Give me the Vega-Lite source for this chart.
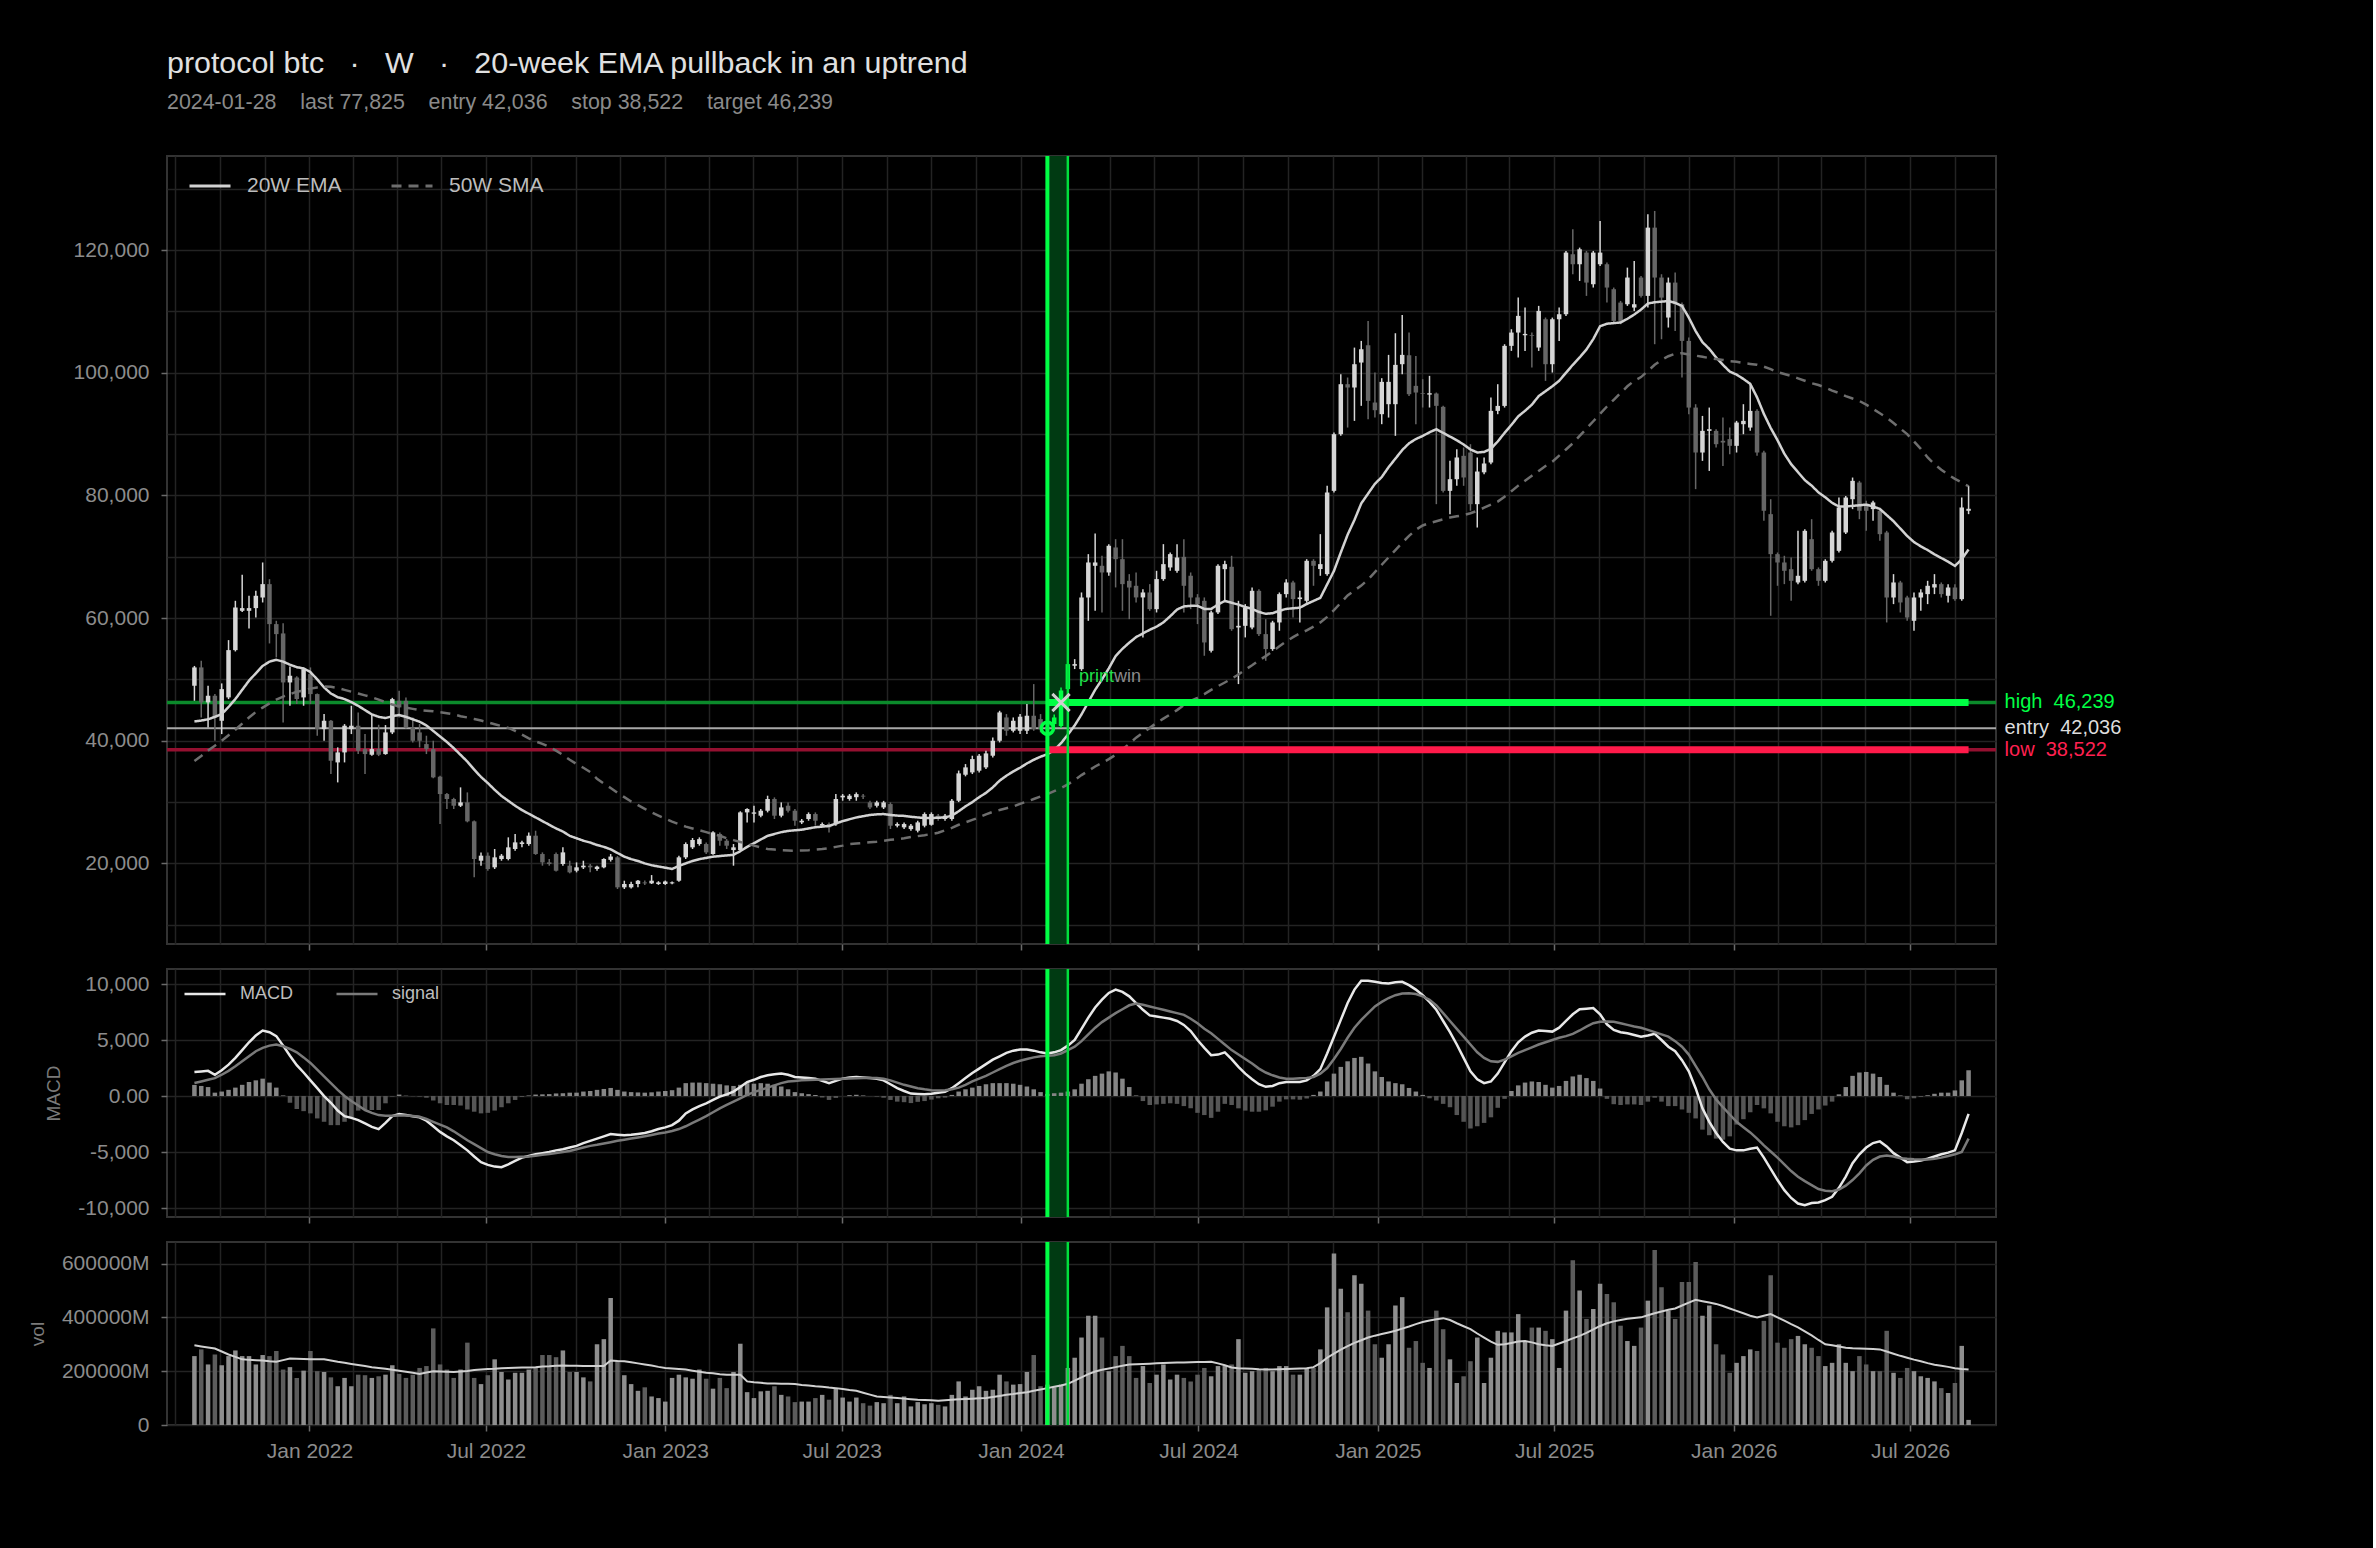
{
"$schema":"https://vega.github.io/schema/vega-lite/v6.json",
"background":"#000000",
"padding":{"left":27,"top":49,"right":250,"bottom":91},
"title":{"text":"protocol btc\u00a0\u00a0\u00a0·\u00a0\u00a0\u00a0W\u00a0\u00a0\u00a0·\u00a0\u00a0\u00a020-week EMA pullback in an uptrend","subtitle":"2024-01-28\u00a0\u00a0\u00a0\u00a0last 77,825\u00a0\u00a0\u00a0\u00a0entry 42,036\u00a0\u00a0\u00a0\u00a0stop 38,522\u00a0\u00a0\u00a0\u00a0target 46,239","anchor":"start","frame":"group","offset":40,"font":"Liberation Sans","fontSize":30.4,"fontWeight":"normal","color":"#e0e0e0","subtitleFont":"Liberation Sans","subtitleFontSize":21.4,"subtitleColor":"#8a8a8a","subtitlePadding":12},
"config":{
"font":"Liberation Sans",
"view":{"stroke":"#333333","strokeWidth":2,"fill":"#000000"},
"axis":{"domain":false,"grid":true,"gridColor":"#232323","gridWidth":1.5,"tickColor":"#6a6a6a","tickSize":6,"tickWidth":1.5,"labelColor":"#8c8c8c","labelFont":"Liberation Sans","labelFontSize":21,"labelPadding":12,"labelOverlap":false,"labelFlush":false,"titleColor":"#7a7a7a","titleFont":"Liberation Sans","titleFontSize":19,"titleFontWeight":"normal","titlePadding":14},
"legend":{"labelFont":"Liberation Sans"}
},
"resolve":{"scale":{"color":"independent","strokeDash":"independent"},"legend":{"color":"independent","strokeDash":"independent"}},
"datasets":{
"ev":[{"start":"2024-01-28","end":"2024-02-18"}],
"lv":[{"name":"high","price":46239,"start":"2024-01-28","end":"2026-08-30","label":"high\u00a0\u00a046,239"},{"name":"entry","price":42036,"start":"2024-01-28","end":"2026-08-30","label":"entry\u00a0\u00a042,036"},{"name":"low","price":38522,"start":"2024-01-28","end":"2026-08-30","label":"low\u00a0\u00a038,522"}],
"mk":[{"kind":"entry","date":"2024-01-28","price":42036,"note":"","outcome":""},{"kind":"exit","date":"2024-02-11","price":46239,"note":"print","outcome":"win"}],
"w":[
{"date":"2021-09-05","o":48970,"h":52200,"l":46520,"c":51960,"v":256000,"ema":43150,"sma":36700,"macd":2150,"sig":1160,"hist":990,"vma":296000},
{"date":"2021-09-12","o":51960,"h":53040,"l":43800,"c":46250,"v":281000,"ema":43300,"sma":37500,"macd":2200,"sig":1300,"hist":900,"vma":292000},
{"date":"2021-09-19","o":46250,"h":48970,"l":42180,"c":47340,"v":225000,"ema":43500,"sma":38400,"macd":2250,"sig":1450,"hist":800,"vma":288000},
{"date":"2021-09-26","o":47340,"h":47610,"l":40000,"c":43800,"v":262000,"ema":43900,"sma":39200,"macd":1900,"sig":1600,"hist":300,"vma":284000},
{"date":"2021-10-03","o":43260,"h":49350,"l":41090,"c":48420,"v":222000,"ema":44350,"sma":40000,"macd":2300,"sig":1900,"hist":400,"vma":273000},
{"date":"2021-10-10","o":47070,"h":56410,"l":46790,"c":54780,"v":256000,"ema":45500,"sma":40900,"macd":2800,"sig":2250,"hist":550,"vma":262000},
{"date":"2021-10-17","o":54780,"h":62820,"l":54560,"c":61730,"v":277000,"ema":46800,"sma":41800,"macd":3400,"sig":2650,"hist":750,"vma":253000},
{"date":"2021-10-24","o":61190,"h":67060,"l":61000,"c":61630,"v":256000,"ema":48300,"sma":42800,"macd":4100,"sig":3100,"hist":1000,"vma":244000},
{"date":"2021-10-31","o":61190,"h":63640,"l":58310,"c":61630,"v":256000,"ema":49800,"sma":43800,"macd":4800,"sig":3550,"hist":1250,"vma":242000},
{"date":"2021-11-07","o":61630,"h":64450,"l":60100,"c":63640,"v":225000,"ema":51000,"sma":44700,"macd":5400,"sig":4000,"hist":1400,"vma":241000},
{"date":"2021-11-14","o":63360,"h":69070,"l":62550,"c":65540,"v":260000,"ema":52200,"sma":45400,"macd":5850,"sig":4300,"hist":1550,"vma":240000},
{"date":"2021-11-21","o":65540,"h":66350,"l":55870,"c":59020,"v":256000,"ema":52900,"sma":46100,"macd":5700,"sig":4500,"hist":1200,"vma":237000},
{"date":"2021-11-28","o":59020,"h":59560,"l":53590,"c":57390,"v":275000,"ema":53200,"sma":46700,"macd":5350,"sig":4600,"hist":750,"vma":235000},
{"date":"2021-12-05","o":57500,"h":59180,"l":42990,"c":49510,"v":206000,"ema":52900,"sma":47200,"macd":4500,"sig":4450,"hist":50,"vma":241000},
{"date":"2021-12-12","o":49510,"h":52120,"l":45710,"c":50600,"v":215000,"ema":52400,"sma":47600,"macd":3600,"sig":4200,"hist":-600,"vma":247000},
{"date":"2021-12-19","o":50330,"h":50500,"l":45980,"c":46790,"v":175000,"ema":52000,"sma":48000,"macd":2750,"sig":3900,"hist":-1150,"vma":246000},
{"date":"2021-12-26","o":47070,"h":51790,"l":45710,"c":51680,"v":202000,"ema":51800,"sma":48200,"macd":2100,"sig":3450,"hist":-1350,"vma":245000},
{"date":"2022-01-02","o":50870,"h":51960,"l":45980,"c":47610,"v":275000,"ema":51200,"sma":48500,"macd":1400,"sig":2950,"hist":-1550,"vma":244000},
{"date":"2022-01-09","o":47610,"h":47720,"l":40820,"c":41900,"v":200000,"ema":50000,"sma":48700,"macd":700,"sig":2350,"hist":-2000,"vma":244000},
{"date":"2022-01-16","o":41900,"h":44350,"l":40000,"c":43260,"v":197000,"ema":48700,"sma":48850,"macd":0,"sig":1750,"hist":-2300,"vma":244000},
{"date":"2022-01-23","o":43260,"h":43400,"l":34570,"c":36740,"v":177000,"ema":47700,"sma":48800,"macd":-600,"sig":1150,"hist":-2600,"vma":240000},
{"date":"2022-01-30","o":36470,"h":38920,"l":33210,"c":38100,"v":144000,"ema":47100,"sma":48600,"macd":-1300,"sig":550,"hist":-2600,"vma":235000},
{"date":"2022-02-06","o":38100,"h":42720,"l":36470,"c":42450,"v":175000,"ema":46800,"sma":48300,"macd":-1800,"sig":0,"hist":-2300,"vma":231000},
{"date":"2022-02-13","o":41900,"h":45710,"l":41090,"c":42450,"v":144000,"ema":46300,"sma":48000,"macd":-1950,"sig":-450,"hist":-1900,"vma":227000},
{"date":"2022-02-20","o":42450,"h":44620,"l":37830,"c":38370,"v":187000,"ema":45700,"sma":47700,"macd":-2150,"sig":-850,"hist":-1300,"vma":223000},
{"date":"2022-02-27","o":38640,"h":41090,"l":34570,"c":37830,"v":185000,"ema":45000,"sma":47400,"macd":-2450,"sig":-1250,"hist":-1200,"vma":219000},
{"date":"2022-03-06","o":37720,"h":44350,"l":37560,"c":38640,"v":175000,"ema":44300,"sma":47100,"macd":-2750,"sig":-1500,"hist":-1250,"vma":215000},
{"date":"2022-03-13","o":38640,"h":42610,"l":37500,"c":37720,"v":181000,"ema":43900,"sma":46700,"macd":-2950,"sig":-1700,"hist":-1250,"vma":212000},
{"date":"2022-03-20","o":37830,"h":42560,"l":37720,"c":41360,"v":187000,"ema":43700,"sma":46300,"macd":-2400,"sig":-1750,"hist":-650,"vma":209000},
{"date":"2022-03-27","o":41360,"h":47000,"l":41090,"c":46790,"v":222000,"ema":44000,"sma":45900,"macd":-1800,"sig":-1750,"hist":-50,"vma":205000},
{"date":"2022-04-03","o":46520,"h":48150,"l":43800,"c":45440,"v":190000,"ema":44200,"sma":45600,"macd":-1600,"sig":-1730,"hist":130,"vma":202000},
{"date":"2022-04-10","o":46520,"h":47070,"l":42000,"c":42180,"v":175000,"ema":43900,"sma":45400,"macd":-1700,"sig":-1730,"hist":30,"vma":198000},
{"date":"2022-04-17","o":42180,"h":43800,"l":39730,"c":40000,"v":187000,"ema":43500,"sma":45200,"macd":-1800,"sig":-1780,"hist":-20,"vma":194000},
{"date":"2022-04-24","o":41360,"h":42720,"l":38920,"c":40000,"v":212000,"ema":43100,"sma":45000,"macd":-1900,"sig":-1850,"hist":-50,"vma":190000},
{"date":"2022-05-01","o":39460,"h":40820,"l":37830,"c":38640,"v":219000,"ema":42500,"sma":44900,"macd":-2200,"sig":-2050,"hist":-150,"vma":195000},
{"date":"2022-05-08","o":38640,"h":40000,"l":33900,"c":34030,"v":359000,"ema":41600,"sma":44800,"macd":-2700,"sig":-2300,"hist":-400,"vma":200000},
{"date":"2022-05-15","o":34140,"h":34300,"l":26420,"c":31310,"v":225000,"ema":40700,"sma":44650,"macd":-3200,"sig":-2550,"hist":-650,"vma":199000},
{"date":"2022-05-22","o":31310,"h":31500,"l":28870,"c":30500,"v":206000,"ema":39800,"sma":44500,"macd":-3600,"sig":-2800,"hist":-800,"vma":198000},
{"date":"2022-05-29","o":30500,"h":30700,"l":28870,"c":29410,"v":175000,"ema":38800,"sma":44300,"macd":-3950,"sig":-3150,"hist":-800,"vma":197000},
{"date":"2022-06-05","o":29410,"h":32400,"l":29200,"c":29950,"v":206000,"ema":37700,"sma":44000,"macd":-4400,"sig":-3550,"hist":-850,"vma":199000},
{"date":"2022-06-12","o":29950,"h":31580,"l":26700,"c":26860,"v":306000,"ema":36600,"sma":43800,"macd":-4850,"sig":-3950,"hist":-1200,"vma":201000},
{"date":"2022-06-19","o":26860,"h":27000,"l":17730,"c":20720,"v":175000,"ema":35300,"sma":43550,"macd":-5400,"sig":-4300,"hist":-1400,"vma":204000},
{"date":"2022-06-26","o":20440,"h":21800,"l":19630,"c":21260,"v":152000,"ema":34100,"sma":43300,"macd":-5900,"sig":-4650,"hist":-1550,"vma":206000},
{"date":"2022-07-03","o":21260,"h":21800,"l":18810,"c":19090,"v":185000,"ema":33100,"sma":43000,"macd":-6150,"sig":-5000,"hist":-1500,"vma":208000},
{"date":"2022-07-10","o":19360,"h":22350,"l":19090,"c":20990,"v":244000,"ema":32000,"sma":42700,"macd":-6300,"sig":-5200,"hist":-1300,"vma":209000},
{"date":"2022-07-17","o":20720,"h":21530,"l":20440,"c":21260,"v":197000,"ema":31000,"sma":42400,"macd":-6350,"sig":-5350,"hist":-1000,"vma":211000},
{"date":"2022-07-24","o":20720,"h":24250,"l":20500,"c":22620,"v":169000,"ema":30200,"sma":42100,"macd":-6100,"sig":-5450,"hist":-650,"vma":212000},
{"date":"2022-07-31","o":22350,"h":24790,"l":22070,"c":23430,"v":194000,"ema":29400,"sma":41600,"macd":-5800,"sig":-5450,"hist":-350,"vma":213000},
{"date":"2022-08-07","o":23160,"h":23700,"l":22620,"c":23430,"v":194000,"ema":28700,"sma":41000,"macd":-5500,"sig":-5420,"hist":-80,"vma":214000},
{"date":"2022-08-14","o":23160,"h":25060,"l":22890,"c":24520,"v":206000,"ema":28100,"sma":40400,"macd":-5350,"sig":-5400,"hist":50,"vma":214000},
{"date":"2022-08-21","o":24520,"h":25330,"l":21400,"c":21530,"v":212000,"ema":27500,"sma":39900,"macd":-5200,"sig":-5330,"hist":130,"vma":215000},
{"date":"2022-08-28","o":21530,"h":21800,"l":19630,"c":20170,"v":260000,"ema":26900,"sma":39500,"macd":-5100,"sig":-5250,"hist":150,"vma":217000},
{"date":"2022-09-04","o":20170,"h":20720,"l":19630,"c":19900,"v":260000,"ema":26300,"sma":39000,"macd":-5000,"sig":-5170,"hist":170,"vma":218000},
{"date":"2022-09-11","o":21530,"h":21800,"l":18700,"c":18810,"v":252000,"ema":25700,"sma":38400,"macd":-4850,"sig":-5080,"hist":230,"vma":220000},
{"date":"2022-09-18","o":19900,"h":22620,"l":19630,"c":21800,"v":277000,"ema":25200,"sma":37700,"macd":-4750,"sig":-5000,"hist":250,"vma":221000},
{"date":"2022-09-25","o":19630,"h":20440,"l":18380,"c":18540,"v":197000,"ema":24500,"sma":36900,"macd":-4600,"sig":-4900,"hist":300,"vma":220000},
{"date":"2022-10-02","o":18810,"h":20170,"l":18540,"c":19360,"v":197000,"ema":24100,"sma":36200,"macd":-4450,"sig":-4750,"hist":300,"vma":220000},
{"date":"2022-10-09","o":19360,"h":20440,"l":19090,"c":19630,"v":177000,"ema":23700,"sma":35600,"macd":-4200,"sig":-4600,"hist":400,"vma":219000},
{"date":"2022-10-16","o":19630,"h":19900,"l":18540,"c":19360,"v":162000,"ema":23400,"sma":34900,"macd":-4000,"sig":-4450,"hist":450,"vma":219000},
{"date":"2022-10-23","o":19090,"h":19630,"l":18810,"c":19470,"v":300000,"ema":23000,"sma":33800,"macd":-3800,"sig":-4350,"hist":550,"vma":219000},
{"date":"2022-10-30","o":19360,"h":20850,"l":19200,"c":20720,"v":319000,"ema":22700,"sma":33000,"macd":-3600,"sig":-4230,"hist":630,"vma":219000},
{"date":"2022-11-06","o":20580,"h":21530,"l":20300,"c":21120,"v":472000,"ema":22300,"sma":32300,"macd":-3400,"sig":-4120,"hist":720,"vma":240000},
{"date":"2022-11-13","o":20990,"h":21200,"l":15830,"c":16100,"v":240000,"ema":21700,"sma":31500,"macd":-3450,"sig":-4000,"hist":550,"vma":238000},
{"date":"2022-11-20","o":16100,"h":17180,"l":15830,"c":16640,"v":185000,"ema":21100,"sma":30800,"macd":-3500,"sig":-3900,"hist":400,"vma":237000},
{"date":"2022-11-27","o":16100,"h":17000,"l":15900,"c":16640,"v":152000,"ema":20700,"sma":30100,"macd":-3450,"sig":-3800,"hist":350,"vma":233000},
{"date":"2022-12-04","o":16640,"h":17290,"l":16100,"c":17180,"v":127000,"ema":20400,"sma":29500,"macd":-3380,"sig":-3700,"hist":320,"vma":229000},
{"date":"2022-12-11","o":16900,"h":17200,"l":16500,"c":16750,"v":140000,"ema":20000,"sma":28900,"macd":-3300,"sig":-3600,"hist":300,"vma":225000},
{"date":"2022-12-18","o":16750,"h":18100,"l":16640,"c":17180,"v":106000,"ema":19700,"sma":28300,"macd":-3150,"sig":-3480,"hist":330,"vma":221000},
{"date":"2022-12-25","o":16640,"h":17100,"l":16500,"c":16910,"v":100000,"ema":19500,"sma":27800,"macd":-2950,"sig":-3350,"hist":400,"vma":216000},
{"date":"2023-01-01","o":16640,"h":17200,"l":16500,"c":17050,"v":87000,"ema":19300,"sma":27300,"macd":-2800,"sig":-3250,"hist":450,"vma":212000},
{"date":"2023-01-08","o":16750,"h":17050,"l":16600,"c":16910,"v":175000,"ema":19100,"sma":26800,"macd":-2600,"sig":-3120,"hist":520,"vma":210000},
{"date":"2023-01-15","o":17180,"h":21260,"l":17000,"c":20990,"v":187000,"ema":19600,"sma":26400,"macd":-2200,"sig":-2950,"hist":750,"vma":208000},
{"date":"2023-01-22","o":20990,"h":23430,"l":20720,"c":23160,"v":177000,"ema":20000,"sma":26000,"macd":-1550,"sig":-2700,"hist":1150,"vma":206000},
{"date":"2023-01-29","o":22620,"h":24140,"l":22350,"c":23820,"v":172000,"ema":20400,"sma":25700,"macd":-1200,"sig":-2400,"hist":1200,"vma":202000},
{"date":"2023-02-05","o":23160,"h":24250,"l":22890,"c":23960,"v":206000,"ema":20700,"sma":25400,"macd":-900,"sig":-2100,"hist":1200,"vma":198000},
{"date":"2023-02-12","o":23160,"h":23430,"l":21530,"c":21800,"v":172000,"ema":20900,"sma":25100,"macd":-650,"sig":-1800,"hist":1150,"vma":194000},
{"date":"2023-02-19","o":21530,"h":25230,"l":21420,"c":25060,"v":135000,"ema":21100,"sma":24800,"macd":-350,"sig":-1450,"hist":1100,"vma":192000},
{"date":"2023-02-26","o":24790,"h":25060,"l":22890,"c":23700,"v":175000,"ema":21200,"sma":24500,"macd":-50,"sig":-1100,"hist":1050,"vma":189000},
{"date":"2023-03-05","o":23700,"h":23970,"l":22350,"c":22890,"v":137000,"ema":21300,"sma":24100,"macd":150,"sig":-800,"hist":950,"vma":187000},
{"date":"2023-03-12","o":22180,"h":23160,"l":19630,"c":22620,"v":197000,"ema":21400,"sma":23800,"macd":400,"sig":-500,"hist":900,"vma":187000},
{"date":"2023-03-19","o":22180,"h":28500,"l":22070,"c":28320,"v":302000,"ema":22000,"sma":23500,"macd":800,"sig":-200,"hist":1000,"vma":187000},
{"date":"2023-03-26","o":28320,"h":29000,"l":26690,"c":28870,"v":122000,"ema":22700,"sma":23200,"macd":1250,"sig":100,"hist":1150,"vma":162000},
{"date":"2023-04-02","o":28100,"h":29410,"l":26690,"c":28320,"v":100000,"ema":23300,"sma":22900,"macd":1450,"sig":350,"hist":1100,"vma":159000},
{"date":"2023-04-09","o":27780,"h":28870,"l":27510,"c":28590,"v":125000,"ema":23900,"sma":22600,"macd":1700,"sig":550,"hist":1150,"vma":157000},
{"date":"2023-04-16","o":28590,"h":31040,"l":28320,"c":30500,"v":127000,"ema":24500,"sma":22350,"macd":1850,"sig":750,"hist":1100,"vma":154000},
{"date":"2023-04-23","o":30500,"h":30770,"l":27240,"c":27780,"v":144000,"ema":24800,"sma":22250,"macd":1950,"sig":950,"hist":1000,"vma":154000},
{"date":"2023-04-30","o":27780,"h":29950,"l":27510,"c":29130,"v":112000,"ema":25100,"sma":22150,"macd":2000,"sig":1150,"hist":850,"vma":153000},
{"date":"2023-05-07","o":29410,"h":29950,"l":28320,"c":28590,"v":106000,"ema":25300,"sma":22100,"macd":1900,"sig":1300,"hist":600,"vma":153000},
{"date":"2023-05-14","o":28590,"h":28870,"l":26150,"c":26960,"v":85000,"ema":25400,"sma":22070,"macd":1700,"sig":1350,"hist":350,"vma":152000},
{"date":"2023-05-21","o":26690,"h":27240,"l":26420,"c":26960,"v":87000,"ema":25500,"sma":22100,"macd":1650,"sig":1400,"hist":250,"vma":149000},
{"date":"2023-05-28","o":27240,"h":28320,"l":26960,"c":28050,"v":87000,"ema":25700,"sma":22150,"macd":1600,"sig":1430,"hist":170,"vma":147000},
{"date":"2023-06-04","o":28050,"h":28320,"l":26150,"c":26960,"v":100000,"ema":25900,"sma":22250,"macd":1550,"sig":1460,"hist":90,"vma":144000},
{"date":"2023-06-11","o":26150,"h":26690,"l":25880,"c":26420,"v":112000,"ema":26000,"sma":22350,"macd":1350,"sig":1480,"hist":-130,"vma":142000},
{"date":"2023-06-18","o":26420,"h":26690,"l":25060,"c":25880,"v":94000,"ema":26100,"sma":22500,"macd":1150,"sig":1500,"hist":-350,"vma":139000},
{"date":"2023-06-25","o":26420,"h":31310,"l":26150,"c":30500,"v":137000,"ema":26500,"sma":22700,"macd":1350,"sig":1520,"hist":-170,"vma":137000},
{"date":"2023-07-02","o":30770,"h":31310,"l":30230,"c":31040,"v":102000,"ema":26900,"sma":22900,"macd":1550,"sig":1550,"hist":0,"vma":134000},
{"date":"2023-07-09","o":30500,"h":31310,"l":30230,"c":31040,"v":87000,"ema":27200,"sma":23150,"macd":1650,"sig":1570,"hist":80,"vma":130000},
{"date":"2023-07-16","o":30800,"h":31580,"l":30220,"c":31300,"v":102000,"ema":27500,"sma":23250,"macd":1700,"sig":1590,"hist":110,"vma":127000},
{"date":"2023-07-23","o":31040,"h":31300,"l":30500,"c":30900,"v":81000,"ema":27700,"sma":23350,"macd":1650,"sig":1600,"hist":50,"vma":120000},
{"date":"2023-07-30","o":29950,"h":30220,"l":28870,"c":29130,"v":72000,"ema":27900,"sma":23450,"macd":1600,"sig":1610,"hist":-10,"vma":113000},
{"date":"2023-08-06","o":29400,"h":30220,"l":29130,"c":29950,"v":85000,"ema":28000,"sma":23550,"macd":1550,"sig":1600,"hist":-50,"vma":106000},
{"date":"2023-08-13","o":29130,"h":30200,"l":28870,"c":29950,"v":81000,"ema":28050,"sma":23700,"macd":1400,"sig":1550,"hist":-150,"vma":104000},
{"date":"2023-08-20","o":29680,"h":29950,"l":25610,"c":26150,"v":112000,"ema":27900,"sma":23850,"macd":1050,"sig":1400,"hist":-350,"vma":102000},
{"date":"2023-08-27","o":26150,"h":26690,"l":25880,"c":26420,"v":81000,"ema":27800,"sma":23950,"macd":700,"sig":1200,"hist":-500,"vma":100000},
{"date":"2023-09-03","o":25880,"h":26690,"l":25610,"c":26420,"v":106000,"ema":27750,"sma":24100,"macd":450,"sig":1000,"hist":-550,"vma":98000},
{"date":"2023-09-10","o":25600,"h":26420,"l":25340,"c":26150,"v":69000,"ema":27600,"sma":24300,"macd":220,"sig":850,"hist":-630,"vma":96000},
{"date":"2023-09-17","o":25340,"h":26960,"l":25060,"c":26690,"v":85000,"ema":27500,"sma":24450,"macd":180,"sig":700,"hist":-520,"vma":94000},
{"date":"2023-09-24","o":26150,"h":28320,"l":25880,"c":28050,"v":77000,"ema":27400,"sma":24600,"macd":150,"sig":600,"hist":-450,"vma":93000},
{"date":"2023-10-01","o":26300,"h":28320,"l":26150,"c":28050,"v":81000,"ema":27400,"sma":24800,"macd":200,"sig":520,"hist":-320,"vma":92000},
{"date":"2023-10-08","o":27780,"h":28050,"l":26960,"c":27240,"v":75000,"ema":27450,"sma":25000,"macd":300,"sig":500,"hist":-200,"vma":90000},
{"date":"2023-10-15","o":27240,"h":28050,"l":26960,"c":27780,"v":69000,"ema":27500,"sma":25400,"macd":380,"sig":520,"hist":-140,"vma":92000},
{"date":"2023-10-22","o":27240,"h":30500,"l":26960,"c":30220,"v":112000,"ema":27800,"sma":25800,"macd":700,"sig":600,"hist":100,"vma":94000},
{"date":"2023-10-29","o":30220,"h":35140,"l":30000,"c":34680,"v":162000,"ema":28500,"sma":26300,"macd":1150,"sig":750,"hist":400,"vma":96000},
{"date":"2023-11-05","o":34460,"h":36200,"l":34200,"c":35660,"v":106000,"ema":29300,"sma":26700,"macd":1600,"sig":1000,"hist":600,"vma":97000},
{"date":"2023-11-12","o":34840,"h":37560,"l":34570,"c":37010,"v":131000,"ema":30000,"sma":27100,"macd":2050,"sig":1300,"hist":750,"vma":98000},
{"date":"2023-11-19","o":35120,"h":37830,"l":34840,"c":37560,"v":144000,"ema":30800,"sma":27500,"macd":2450,"sig":1550,"hist":900,"vma":99000},
{"date":"2023-11-26","o":35660,"h":38370,"l":35390,"c":37940,"v":127000,"ema":31500,"sma":28000,"macd":2850,"sig":1800,"hist":1050,"vma":100000},
{"date":"2023-12-03","o":37560,"h":40550,"l":37280,"c":40000,"v":131000,"ema":32400,"sma":28400,"macd":3250,"sig":2100,"hist":1150,"vma":104000},
{"date":"2023-12-10","o":40000,"h":44890,"l":39730,"c":44620,"v":187000,"ema":33500,"sma":28700,"macd":3550,"sig":2400,"hist":1150,"vma":108000},
{"date":"2023-12-17","o":43800,"h":44350,"l":40820,"c":41630,"v":162000,"ema":34300,"sma":29000,"macd":3850,"sig":2700,"hist":1150,"vma":112000},
{"date":"2023-12-24","o":41630,"h":43800,"l":41360,"c":43260,"v":150000,"ema":35000,"sma":29300,"macd":4050,"sig":2950,"hist":1100,"vma":115000},
{"date":"2023-12-31","o":41630,"h":44350,"l":41090,"c":43920,"v":152000,"ema":35600,"sma":29700,"macd":4150,"sig":3150,"hist":1000,"vma":119000},
{"date":"2024-01-07","o":41630,"h":45980,"l":41090,"c":44080,"v":197000,"ema":36300,"sma":30100,"macd":4150,"sig":3300,"hist":850,"vma":122000},
{"date":"2024-01-14","o":44080,"h":49240,"l":41630,"c":41900,"v":260000,"ema":36900,"sma":30500,"macd":4050,"sig":3450,"hist":600,"vma":127000},
{"date":"2024-01-21","o":43530,"h":44350,"l":41360,"c":41900,"v":144000,"ema":37400,"sma":30900,"macd":3900,"sig":3550,"hist":350,"vma":132000},
{"date":"2024-01-28","o":41900,"h":43000,"l":38600,"c":42036,"v":150000,"ema":37800,"sma":31300,"macd":3790,"sig":3600,"hist":190,"vma":137000},
{"date":"2024-02-04","o":42720,"h":44300,"l":42200,"c":43800,"v":140000,"ema":38500,"sma":31800,"macd":3900,"sig":3650,"hist":250,"vma":142000},
{"date":"2024-02-11","o":42400,"h":48700,"l":42100,"c":48200,"v":150000,"ema":39600,"sma":32300,"macd":4100,"sig":3800,"hist":300,"vma":147000},
{"date":"2024-02-18","o":48420,"h":52770,"l":48150,"c":52500,"v":212000,"ema":41000,"sma":32900,"macd":4500,"sig":4100,"hist":400,"vma":153000},
{"date":"2024-02-25","o":52230,"h":53310,"l":51690,"c":52500,"v":250000,"ema":42500,"sma":33600,"macd":5000,"sig":4400,"hist":600,"vma":165000},
{"date":"2024-03-03","o":51680,"h":64180,"l":51400,"c":63360,"v":325000,"ema":44300,"sma":34400,"macd":6000,"sig":4900,"hist":1100,"vma":177000},
{"date":"2024-03-10","o":63360,"h":70430,"l":59560,"c":69070,"v":406000,"ema":46300,"sma":35100,"macd":7000,"sig":5500,"hist":1500,"vma":189000},
{"date":"2024-03-17","o":68530,"h":73800,"l":61190,"c":69070,"v":406000,"ema":48300,"sma":35800,"macd":7900,"sig":6100,"hist":1800,"vma":199000},
{"date":"2024-03-24","o":68530,"h":70160,"l":60920,"c":67440,"v":325000,"ema":50000,"sma":36400,"macd":8600,"sig":6600,"hist":2000,"vma":205000},
{"date":"2024-03-31","o":67440,"h":72060,"l":66900,"c":71790,"v":200000,"ema":51800,"sma":37000,"macd":9200,"sig":7000,"hist":2200,"vma":210000},
{"date":"2024-04-07","o":71520,"h":72870,"l":65000,"c":69610,"v":256000,"ema":53800,"sma":37700,"macd":9500,"sig":7400,"hist":2100,"vma":215000},
{"date":"2024-04-14","o":69610,"h":72870,"l":61190,"c":65540,"v":294000,"ema":55000,"sma":38600,"macd":9300,"sig":7750,"hist":1550,"vma":220000},
{"date":"2024-04-21","o":66080,"h":67170,"l":59830,"c":64990,"v":256000,"ema":56000,"sma":39500,"macd":8900,"sig":8100,"hist":800,"vma":225000},
{"date":"2024-04-28","o":65270,"h":67440,"l":62550,"c":63370,"v":175000,"ema":56900,"sma":40500,"macd":8300,"sig":8250,"hist":50,"vma":226000},
{"date":"2024-05-05","o":63370,"h":64720,"l":56850,"c":64180,"v":219000,"ema":57500,"sma":41300,"macd":7700,"sig":8150,"hist":-450,"vma":227000},
{"date":"2024-05-12","o":64180,"h":65540,"l":61190,"c":61460,"v":156000,"ema":58100,"sma":42100,"macd":7200,"sig":8000,"hist":-800,"vma":228000},
{"date":"2024-05-19","o":61460,"h":67710,"l":60920,"c":66360,"v":187000,"ema":58600,"sma":42900,"macd":7100,"sig":7850,"hist":-750,"vma":229000},
{"date":"2024-05-26","o":66360,"h":72060,"l":66080,"c":68800,"v":225000,"ema":59300,"sma":43600,"macd":7000,"sig":7700,"hist":-700,"vma":230000},
{"date":"2024-06-02","o":68260,"h":70700,"l":67710,"c":70430,"v":169000,"ema":60300,"sma":44300,"macd":6900,"sig":7550,"hist":-650,"vma":231000},
{"date":"2024-06-09","o":67710,"h":72060,"l":67400,"c":69880,"v":187000,"ema":61400,"sma":45000,"macd":6700,"sig":7400,"hist":-700,"vma":232000},
{"date":"2024-06-16","o":69990,"h":72870,"l":60920,"c":65270,"v":175000,"ema":61900,"sma":45800,"macd":6350,"sig":7250,"hist":-900,"vma":232000},
{"date":"2024-06-23","o":66900,"h":67440,"l":61460,"c":63370,"v":162000,"ema":62000,"sma":46500,"macd":5800,"sig":6900,"hist":-1100,"vma":233000},
{"date":"2024-06-30","o":63370,"h":63910,"l":59020,"c":62280,"v":187000,"ema":62000,"sma":47000,"macd":5000,"sig":6500,"hist":-1500,"vma":234000},
{"date":"2024-07-07","o":62820,"h":63370,"l":53860,"c":56030,"v":212000,"ema":61500,"sma":47600,"macd":4300,"sig":6000,"hist":-1700,"vma":234000},
{"date":"2024-07-14","o":54670,"h":61200,"l":54400,"c":60930,"v":181000,"ema":61500,"sma":48300,"macd":3650,"sig":5600,"hist":-1950,"vma":235000},
{"date":"2024-07-21","o":60930,"h":68800,"l":60660,"c":68530,"v":219000,"ema":62200,"sma":48900,"macd":3700,"sig":5100,"hist":-1400,"vma":229000},
{"date":"2024-07-28","o":67980,"h":69340,"l":62820,"c":68800,"v":219000,"ema":62800,"sma":49500,"macd":3900,"sig":4600,"hist":-700,"vma":222000},
{"date":"2024-08-04","o":68370,"h":70160,"l":57930,"c":58200,"v":225000,"ema":62500,"sma":50100,"macd":3300,"sig":4100,"hist":-800,"vma":214000},
{"date":"2024-08-11","o":58470,"h":62820,"l":49240,"c":58740,"v":319000,"ema":62200,"sma":50800,"macd":2600,"sig":3700,"hist":-1100,"vma":211000},
{"date":"2024-08-18","o":58740,"h":62280,"l":56850,"c":61730,"v":194000,"ema":61800,"sma":51600,"macd":2000,"sig":3300,"hist":-1300,"vma":210000},
{"date":"2024-08-25","o":58470,"h":64990,"l":58200,"c":64450,"v":200000,"ema":61500,"sma":52300,"macd":1500,"sig":2900,"hist":-1400,"vma":209000},
{"date":"2024-09-01","o":64450,"h":64720,"l":57100,"c":57390,"v":206000,"ema":61000,"sma":53100,"macd":1050,"sig":2450,"hist":-1400,"vma":207000},
{"date":"2024-09-08","o":57390,"h":59830,"l":53040,"c":54950,"v":212000,"ema":60700,"sma":53800,"macd":820,"sig":2100,"hist":-1280,"vma":206000},
{"date":"2024-09-15","o":54950,"h":59560,"l":54670,"c":59290,"v":200000,"ema":60800,"sma":54600,"macd":900,"sig":1850,"hist":-950,"vma":206000},
{"date":"2024-09-22","o":59290,"h":64180,"l":57930,"c":63910,"v":219000,"ema":61200,"sma":55400,"macd":1150,"sig":1650,"hist":-500,"vma":207000},
{"date":"2024-09-29","o":63910,"h":66350,"l":63370,"c":65810,"v":219000,"ema":61500,"sma":56200,"macd":1250,"sig":1550,"hist":-300,"vma":208000},
{"date":"2024-10-06","o":65810,"h":66080,"l":60100,"c":63100,"v":187000,"ema":61600,"sma":56900,"macd":1250,"sig":1550,"hist":-300,"vma":209000},
{"date":"2024-10-13","o":63100,"h":64450,"l":59300,"c":63370,"v":187000,"ema":61700,"sma":57500,"macd":1250,"sig":1580,"hist":-330,"vma":210000},
{"date":"2024-10-20","o":62820,"h":69610,"l":62500,"c":69340,"v":212000,"ema":62300,"sma":58000,"macd":1400,"sig":1620,"hist":-220,"vma":211000},
{"date":"2024-10-27","o":69340,"h":69610,"l":65270,"c":68530,"v":212000,"ema":62800,"sma":58600,"macd":1800,"sig":1700,"hist":100,"vma":215000},
{"date":"2024-11-03","o":68000,"h":73690,"l":66900,"c":68800,"v":281000,"ema":63300,"sma":59300,"macd":2400,"sig":2000,"hist":400,"vma":230000},
{"date":"2024-11-10","o":67170,"h":81570,"l":66900,"c":80480,"v":437000,"ema":65500,"sma":60200,"macd":3800,"sig":2500,"hist":1300,"vma":250000},
{"date":"2024-11-17","o":80750,"h":90260,"l":80480,"c":89990,"v":637000,"ema":67700,"sma":61300,"macd":5300,"sig":3300,"hist":2000,"vma":265000},
{"date":"2024-11-24","o":89990,"h":99770,"l":89720,"c":98140,"v":506000,"ema":70700,"sma":62500,"macd":6800,"sig":4200,"hist":2600,"vma":280000},
{"date":"2024-12-01","o":98140,"h":99230,"l":91070,"c":97600,"v":419000,"ema":73600,"sma":63700,"macd":8300,"sig":5200,"hist":3100,"vma":293000},
{"date":"2024-12-08","o":97600,"h":104110,"l":92160,"c":101400,"v":556000,"ema":76000,"sma":64500,"macd":9500,"sig":6100,"hist":3400,"vma":305000},
{"date":"2024-12-15","o":101670,"h":105200,"l":94610,"c":103840,"v":525000,"ema":78700,"sma":65300,"macd":10300,"sig":6800,"hist":3500,"vma":315000},
{"date":"2024-12-22","o":104490,"h":108460,"l":92430,"c":95420,"v":425000,"ema":80300,"sma":66300,"macd":10300,"sig":7400,"hist":2900,"vma":325000},
{"date":"2024-12-29","o":95150,"h":100040,"l":92700,"c":93900,"v":300000,"ema":81900,"sma":67500,"macd":10200,"sig":8000,"hist":2200,"vma":332000},
{"date":"2025-01-05","o":93250,"h":99120,"l":91620,"c":98520,"v":250000,"ema":83000,"sma":68700,"macd":10100,"sig":8400,"hist":1700,"vma":338000},
{"date":"2025-01-12","o":94880,"h":102920,"l":92700,"c":98520,"v":300000,"ema":84600,"sma":69900,"macd":10050,"sig":8750,"hist":1300,"vma":344000},
{"date":"2025-01-19","o":94880,"h":106450,"l":89720,"c":101290,"v":444000,"ema":86000,"sma":71100,"macd":10150,"sig":9000,"hist":1150,"vma":350000},
{"date":"2025-01-26","o":101400,"h":109440,"l":99770,"c":102920,"v":475000,"ema":87400,"sma":72300,"macd":10200,"sig":9150,"hist":1050,"vma":358000},
{"date":"2025-02-02","o":102860,"h":106560,"l":96200,"c":96510,"v":287000,"ema":88500,"sma":73400,"macd":9900,"sig":9180,"hist":720,"vma":366000},
{"date":"2025-02-09","o":97870,"h":102750,"l":91620,"c":96780,"v":312000,"ema":89200,"sma":74400,"macd":9500,"sig":9100,"hist":400,"vma":375000},
{"date":"2025-02-16","o":96670,"h":98960,"l":94340,"c":96560,"v":231000,"ema":89700,"sma":75100,"macd":9000,"sig":8900,"hist":100,"vma":383000},
{"date":"2025-02-23","o":96440,"h":99500,"l":94340,"c":96670,"v":212000,"ema":90300,"sma":75500,"macd":8400,"sig":8600,"hist":-200,"vma":388000},
{"date":"2025-03-02","o":96620,"h":96780,"l":78580,"c":94610,"v":425000,"ema":90800,"sma":75800,"macd":7700,"sig":8100,"hist":-400,"vma":393000},
{"date":"2025-03-09","o":94450,"h":94610,"l":80480,"c":80750,"v":356000,"ema":90200,"sma":76100,"macd":6700,"sig":7400,"hist":-700,"vma":397000},
{"date":"2025-03-16","o":80750,"h":85640,"l":76950,"c":82650,"v":244000,"ema":89600,"sma":76400,"macd":5700,"sig":6700,"hist":-1000,"vma":390000},
{"date":"2025-03-23","o":82650,"h":87550,"l":81570,"c":86190,"v":156000,"ema":89000,"sma":76600,"macd":4600,"sig":6000,"hist":-1700,"vma":378000},
{"date":"2025-03-30","o":86460,"h":87820,"l":81570,"c":82930,"v":181000,"ema":88300,"sma":76800,"macd":3400,"sig":5300,"hist":-2300,"vma":367000},
{"date":"2025-04-06","o":87000,"h":88360,"l":77500,"c":78580,"v":237000,"ema":87500,"sma":77100,"macd":2200,"sig":4600,"hist":-2900,"vma":356000},
{"date":"2025-04-13","o":78580,"h":86190,"l":74770,"c":83900,"v":325000,"ema":87000,"sma":77500,"macd":1500,"sig":3900,"hist":-2700,"vma":340000},
{"date":"2025-04-20","o":83770,"h":86190,"l":83470,"c":85210,"v":156000,"ema":87100,"sma":78000,"macd":1150,"sig":3400,"hist":-2400,"vma":325000},
{"date":"2025-04-27","o":85370,"h":95960,"l":85100,"c":93790,"v":250000,"ema":87600,"sma":78500,"macd":1300,"sig":3100,"hist":-1900,"vma":310000},
{"date":"2025-05-04","o":93790,"h":98140,"l":93250,"c":94600,"v":350000,"ema":88800,"sma":79000,"macd":2000,"sig":3050,"hist":-1050,"vma":298000},
{"date":"2025-05-11","o":94600,"h":104660,"l":94330,"c":104390,"v":344000,"ema":90200,"sma":79800,"macd":3000,"sig":3250,"hist":-250,"vma":300000},
{"date":"2025-05-18","o":104390,"h":107100,"l":103570,"c":106560,"v":344000,"ema":91500,"sma":80700,"macd":4000,"sig":3550,"hist":450,"vma":305000},
{"date":"2025-05-25","o":106560,"h":112260,"l":102480,"c":109280,"v":412000,"ema":92900,"sma":81600,"macd":4800,"sig":3850,"hist":950,"vma":310000},
{"date":"2025-06-01","o":106120,"h":110630,"l":103570,"c":106340,"v":312000,"ema":93800,"sma":82400,"macd":5300,"sig":4100,"hist":1200,"vma":312000},
{"date":"2025-06-08","o":106120,"h":106560,"l":100860,"c":106000,"v":362000,"ema":94800,"sma":83200,"macd":5650,"sig":4350,"hist":1300,"vma":307000},
{"date":"2025-06-15","o":104120,"h":110910,"l":103570,"c":110090,"v":362000,"ema":96200,"sma":84000,"macd":5850,"sig":4600,"hist":1250,"vma":300000},
{"date":"2025-06-22","o":108730,"h":109010,"l":98680,"c":101400,"v":350000,"ema":97000,"sma":84800,"macd":5800,"sig":4800,"hist":1000,"vma":296000},
{"date":"2025-06-29","o":101400,"h":109000,"l":100040,"c":108730,"v":319000,"ema":97800,"sma":85500,"macd":5750,"sig":5000,"hist":750,"vma":294000},
{"date":"2025-07-06","o":108730,"h":110640,"l":105200,"c":109550,"v":212000,"ema":98700,"sma":86500,"macd":6100,"sig":5200,"hist":900,"vma":303000},
{"date":"2025-07-13","o":109550,"h":119870,"l":109280,"c":119600,"v":425000,"ema":100000,"sma":87500,"macd":6700,"sig":5350,"hist":1350,"vma":312000},
{"date":"2025-07-20","o":119330,"h":123400,"l":116070,"c":117700,"v":612000,"ema":101300,"sma":88500,"macd":7300,"sig":5550,"hist":1750,"vma":322000},
{"date":"2025-07-27","o":117700,"h":120410,"l":114980,"c":120140,"v":500000,"ema":102500,"sma":89700,"macd":7750,"sig":5850,"hist":1900,"vma":331000},
{"date":"2025-08-03","o":119600,"h":119870,"l":112540,"c":114710,"v":394000,"ema":103800,"sma":90900,"macd":7800,"sig":6200,"hist":1600,"vma":342000},
{"date":"2025-08-10","o":114440,"h":119870,"l":113900,"c":119600,"v":431000,"ema":105500,"sma":92100,"macd":7850,"sig":6500,"hist":1350,"vma":355000},
{"date":"2025-08-17","o":117700,"h":124760,"l":117400,"c":119600,"v":525000,"ema":107600,"sma":93300,"macd":7300,"sig":6630,"hist":670,"vma":368000},
{"date":"2025-08-24","o":117700,"h":117970,"l":111450,"c":113900,"v":487000,"ema":108000,"sma":94500,"macd":6400,"sig":6650,"hist":-250,"vma":378000},
{"date":"2025-08-31","o":113630,"h":113900,"l":108190,"c":108460,"v":456000,"ema":108100,"sma":95600,"macd":5900,"sig":6630,"hist":-730,"vma":385000},
{"date":"2025-09-07","o":111450,"h":111720,"l":107920,"c":108460,"v":369000,"ema":108200,"sma":96700,"macd":5700,"sig":6500,"hist":-800,"vma":390000},
{"date":"2025-09-14","o":111180,"h":117150,"l":110910,"c":115530,"v":312000,"ema":108800,"sma":97800,"macd":5600,"sig":6350,"hist":-750,"vma":395000},
{"date":"2025-09-21","o":110640,"h":118240,"l":110090,"c":111180,"v":294000,"ema":109500,"sma":98700,"macd":5450,"sig":6200,"hist":-750,"vma":398000},
{"date":"2025-09-28","o":115530,"h":115800,"l":112260,"c":112540,"v":362000,"ema":110300,"sma":99300,"macd":5300,"sig":6100,"hist":-800,"vma":400000},
{"date":"2025-10-05","o":112540,"h":125850,"l":110640,"c":123670,"v":462000,"ema":111300,"sma":100300,"macd":5400,"sig":5900,"hist":-500,"vma":408000},
{"date":"2025-10-12","o":123670,"h":126390,"l":104660,"c":115530,"v":650000,"ema":111500,"sma":101300,"macd":5550,"sig":5700,"hist":-150,"vma":415000},
{"date":"2025-10-19","o":115530,"h":116070,"l":105470,"c":112260,"v":512000,"ema":111600,"sma":102100,"macd":5000,"sig":5500,"hist":-500,"vma":422000},
{"date":"2025-10-26","o":109010,"h":115530,"l":107380,"c":114710,"v":425000,"ema":111700,"sma":102700,"macd":4400,"sig":5300,"hist":-900,"vma":428000},
{"date":"2025-11-02","o":114710,"h":116340,"l":106830,"c":111180,"v":394000,"ema":111400,"sma":103100,"macd":4000,"sig":4900,"hist":-900,"vma":433000},
{"date":"2025-11-09","o":111180,"h":111450,"l":99230,"c":105200,"v":531000,"ema":110900,"sma":103200,"macd":3200,"sig":4400,"hist":-1200,"vma":444000},
{"date":"2025-11-16","o":105200,"h":105740,"l":93250,"c":94330,"v":531000,"ema":109000,"sma":103000,"macd":2200,"sig":3700,"hist":-1500,"vma":455000},
{"date":"2025-11-23","o":94330,"h":94880,"l":81030,"c":87000,"v":606000,"ema":106800,"sma":102800,"macd":700,"sig":2700,"hist":-2000,"vma":465000},
{"date":"2025-11-30","o":87000,"h":92970,"l":85640,"c":90530,"v":406000,"ema":105000,"sma":102600,"macd":-1100,"sig":1700,"hist":-3000,"vma":460000},
{"date":"2025-12-07","o":90530,"h":94330,"l":84000,"c":90800,"v":444000,"ema":103900,"sma":102400,"macd":-2300,"sig":600,"hist":-3500,"vma":455000},
{"date":"2025-12-14","o":90530,"h":90800,"l":87820,"c":88360,"v":300000,"ema":102500,"sma":102250,"macd":-3300,"sig":-300,"hist":-3800,"vma":450000},
{"date":"2025-12-21","o":88910,"h":92700,"l":84820,"c":88630,"v":262000,"ema":101300,"sma":102100,"macd":-4100,"sig":-1000,"hist":-3900,"vma":442000},
{"date":"2025-12-28","o":89180,"h":91070,"l":86730,"c":88090,"v":194000,"ema":100200,"sma":101900,"macd":-4700,"sig":-1650,"hist":-3600,"vma":433000},
{"date":"2026-01-04","o":88090,"h":92160,"l":87000,"c":91890,"v":231000,"ema":99700,"sma":101800,"macd":-4850,"sig":-2300,"hist":-2550,"vma":424000},
{"date":"2026-01-11","o":91620,"h":94880,"l":89990,"c":92160,"v":256000,"ema":99000,"sma":101600,"macd":-4850,"sig":-2780,"hist":-2070,"vma":415000},
{"date":"2026-01-18","o":91070,"h":98140,"l":90530,"c":93790,"v":281000,"ema":98200,"sma":101450,"macd":-4700,"sig":-3250,"hist":-1450,"vma":406000},
{"date":"2026-01-25","o":93790,"h":94060,"l":86460,"c":87000,"v":275000,"ema":96000,"sma":101300,"macd":-4600,"sig":-3800,"hist":-800,"vma":400000},
{"date":"2026-02-01","o":87000,"h":87270,"l":75860,"c":77500,"v":387000,"ema":93300,"sma":101000,"macd":-5500,"sig":-4400,"hist":-1100,"vma":406000},
{"date":"2026-02-08","o":76950,"h":79390,"l":60380,"c":70430,"v":556000,"ema":91000,"sma":100600,"macd":-6500,"sig":-4950,"hist":-1550,"vma":412000},
{"date":"2026-02-15","o":70430,"h":70700,"l":65270,"c":69070,"v":306000,"ema":89000,"sma":100100,"macd":-7500,"sig":-5500,"hist":-2300,"vma":400000},
{"date":"2026-02-22","o":69070,"h":70160,"l":65540,"c":67710,"v":287000,"ema":86800,"sma":99800,"macd":-8400,"sig":-6100,"hist":-2700,"vma":388000},
{"date":"2026-03-01","o":67980,"h":69880,"l":62820,"c":66080,"v":319000,"ema":85100,"sma":99500,"macd":-9100,"sig":-6700,"hist":-2800,"vma":375000},
{"date":"2026-03-08","o":65810,"h":74230,"l":65540,"c":66900,"v":331000,"ema":83800,"sma":99100,"macd":-9600,"sig":-7200,"hist":-2600,"vma":363000},
{"date":"2026-03-15","o":66080,"h":74500,"l":65800,"c":74230,"v":300000,"ema":82500,"sma":98700,"macd":-9750,"sig":-7600,"hist":-2150,"vma":348000},
{"date":"2026-03-22","o":72870,"h":76130,"l":67710,"c":67980,"v":287000,"ema":81600,"sma":98300,"macd":-9550,"sig":-7950,"hist":-1600,"vma":333000},
{"date":"2026-03-29","o":67980,"h":68260,"l":65270,"c":66080,"v":256000,"ema":80500,"sma":98000,"macd":-9500,"sig":-8300,"hist":-1200,"vma":316000},
{"date":"2026-04-05","o":66080,"h":69600,"l":65810,"c":69340,"v":219000,"ema":79700,"sma":97600,"macd":-9300,"sig":-8450,"hist":-850,"vma":300000},
{"date":"2026-04-12","o":69340,"h":74230,"l":69070,"c":73960,"v":231000,"ema":78800,"sma":97100,"macd":-9000,"sig":-8500,"hist":-500,"vma":296000},
{"date":"2026-04-19","o":70970,"h":79660,"l":70700,"c":78040,"v":300000,"ema":78200,"sma":96700,"macd":-8200,"sig":-8350,"hist":150,"vma":292000},
{"date":"2026-04-26","o":73960,"h":79900,"l":73700,"c":79660,"v":231000,"ema":78200,"sma":96200,"macd":-7200,"sig":-8000,"hist":800,"vma":287000},
{"date":"2026-05-03","o":79390,"h":82920,"l":77770,"c":82380,"v":200000,"ema":78300,"sma":95800,"macd":-6000,"sig":-7500,"hist":1800,"vma":285000},
{"date":"2026-05-10","o":82110,"h":82380,"l":76130,"c":77500,"v":256000,"ema":78400,"sma":95400,"macd":-5200,"sig":-6900,"hist":2100,"vma":284000},
{"date":"2026-05-17","o":78580,"h":79120,"l":74230,"c":77500,"v":225000,"ema":78500,"sma":94800,"macd":-4600,"sig":-6200,"hist":2150,"vma":283000},
{"date":"2026-05-24","o":77770,"h":79120,"l":75860,"c":78860,"v":200000,"ema":78200,"sma":94100,"macd":-4200,"sig":-5700,"hist":2000,"vma":282000},
{"date":"2026-05-31","o":77500,"h":77770,"l":72600,"c":73690,"v":200000,"ema":77800,"sma":93400,"macd":-4050,"sig":-5400,"hist":1700,"vma":281000},
{"date":"2026-06-07","o":73960,"h":74230,"l":59290,"c":63360,"v":350000,"ema":76800,"sma":92700,"macd":-4500,"sig":-5300,"hist":1000,"vma":273000},
{"date":"2026-06-14","o":63360,"h":67170,"l":62280,"c":65810,"v":194000,"ema":75800,"sma":91800,"macd":-5100,"sig":-5400,"hist":300,"vma":265000},
{"date":"2026-06-21","o":65810,"h":66080,"l":60920,"c":62550,"v":175000,"ema":74600,"sma":90900,"macd":-5500,"sig":-5550,"hist":50,"vma":257000},
{"date":"2026-06-28","o":63360,"h":63640,"l":59560,"c":60100,"v":212000,"ema":73400,"sma":90000,"macd":-5900,"sig":-5610,"hist":-290,"vma":250000},
{"date":"2026-07-05","o":59560,"h":64180,"l":57930,"c":63360,"v":200000,"ema":72400,"sma":88800,"macd":-5850,"sig":-5650,"hist":-200,"vma":243000},
{"date":"2026-07-12","o":63360,"h":64720,"l":61190,"c":64180,"v":181000,"ema":71700,"sma":87600,"macd":-5750,"sig":-5670,"hist":-80,"vma":237000},
{"date":"2026-07-19","o":63910,"h":66080,"l":62280,"c":65270,"v":175000,"ema":71100,"sma":86200,"macd":-5600,"sig":-5670,"hist":70,"vma":230000},
{"date":"2026-07-26","o":64990,"h":67170,"l":63910,"c":65540,"v":162000,"ema":70400,"sma":85100,"macd":-5400,"sig":-5600,"hist":200,"vma":224000},
{"date":"2026-08-02","o":65540,"h":65810,"l":63360,"c":63910,"v":137000,"ema":69800,"sma":84200,"macd":-5200,"sig":-5500,"hist":300,"vma":220000},
{"date":"2026-08-09","o":63640,"h":65540,"l":62550,"c":64990,"v":119000,"ema":69200,"sma":83400,"macd":-5050,"sig":-5350,"hist":300,"vma":216000},
{"date":"2026-08-16","o":64990,"h":65540,"l":62820,"c":63090,"v":156000,"ema":68500,"sma":82700,"macd":-4850,"sig":-5200,"hist":500,"vma":211000},
{"date":"2026-08-23","o":63090,"h":79660,"l":62820,"c":78040,"v":294000,"ema":69600,"sma":82100,"macd":-3300,"sig":-5000,"hist":1400,"vma":208000},
{"date":"2026-08-30","o":77500,"h":81570,"l":76950,"c":77825,"v":19000,"ema":71200,"sma":81500,"macd":-1600,"sig":-3800,"hist":2300,"vma":206000}
]
},
"spacing":25,
"bounds":"flush",
"vconcat":[
{
"width":1829,"height":788,
"layer":[
{"data":{"name":"ev"},"mark":{"type":"rect","color":"#003a12"},
 "encoding":{"x":{"field":"start","type":"temporal","title":null,"scale":{"type":"utc","nice":false,"domain":[{"year":2021,"month":8,"date":13,"utc":true},{"year":2026,"month":9,"date":22,"utc":true}]},
 "axis":{"labels":false,"grid":true,"tickOpacity":{"condition":{"test":"utcmonth(datum.value) % 6 == 0 && utcdate(datum.value) == 1","value":1},"value":0},
 "values":[{"year":2021,"month":8,"date":16,"utc":true},{"year":2021,"month":10,"date":1,"utc":true},{"year":2021,"month":11,"date":16,"utc":true},{"year":2022,"month":1,"date":1,"utc":true},{"year":2022,"month":2,"date":15,"utc":true},{"year":2022,"month":4,"date":1,"utc":true},{"year":2022,"month":5,"date":16,"utc":true},{"year":2022,"month":7,"date":1,"utc":true},{"year":2022,"month":8,"date":16,"utc":true},{"year":2022,"month":10,"date":1,"utc":true},{"year":2022,"month":11,"date":16,"utc":true},{"year":2023,"month":1,"date":1,"utc":true},{"year":2023,"month":2,"date":15,"utc":true},{"year":2023,"month":4,"date":1,"utc":true},{"year":2023,"month":5,"date":16,"utc":true},{"year":2023,"month":7,"date":1,"utc":true},{"year":2023,"month":8,"date":16,"utc":true},{"year":2023,"month":10,"date":1,"utc":true},{"year":2023,"month":11,"date":16,"utc":true},{"year":2024,"month":1,"date":1,"utc":true},{"year":2024,"month":2,"date":15,"utc":true},{"year":2024,"month":4,"date":1,"utc":true},{"year":2024,"month":5,"date":16,"utc":true},{"year":2024,"month":7,"date":1,"utc":true},{"year":2024,"month":8,"date":16,"utc":true},{"year":2024,"month":10,"date":1,"utc":true},{"year":2024,"month":11,"date":16,"utc":true},{"year":2025,"month":1,"date":1,"utc":true},{"year":2025,"month":2,"date":15,"utc":true},{"year":2025,"month":4,"date":1,"utc":true},{"year":2025,"month":5,"date":16,"utc":true},{"year":2025,"month":7,"date":1,"utc":true},{"year":2025,"month":8,"date":16,"utc":true},{"year":2025,"month":10,"date":1,"utc":true},{"year":2025,"month":11,"date":16,"utc":true},{"year":2026,"month":1,"date":1,"utc":true},{"year":2026,"month":2,"date":15,"utc":true},{"year":2026,"month":4,"date":1,"utc":true},{"year":2026,"month":5,"date":16,"utc":true},{"year":2026,"month":7,"date":1,"utc":true},{"year":2026,"month":8,"date":16,"utc":true}]}},
 "x2":{"field":"end"}}},
{"data":{"name":"lv"},"mark":{"type":"rule"},
 "encoding":{"y":{"field":"price","type":"quantitative","title":null,"scale":{"domain":[6860,135350],"nice":false,"zero":false},
 "axis":{"grid":true,"values":[10000,15000,20000,25000,30000,35000,40000,45000,50000,55000,60000,65000,70000,75000,80000,85000,90000,95000,100000,105000,110000,115000,120000,125000,130000,135000],"labelExpr":"datum.value % 20000 == 0 ? format(datum.value, ',') : ''","tickOpacity":{"condition":{"test":"datum.value % 20000 == 0","value":1},"value":0}}},
 "color":{"condition":[{"test":"datum.name == 'high'","value":"#0b8a2b"},{"test":"datum.name == 'low'","value":"#941030"}],"value":"#a8a8a8"},
 "strokeWidth":{"condition":{"test":"datum.name == 'entry'","value":2},"value":3.5}}},
{"data":{"name":"w"},"mark":{"type":"rule","strokeWidth":1.5},
 "encoding":{"x":{"field":"date","type":"temporal","title":null,"scale":{"type":"utc","nice":false,"domain":[{"year":2021,"month":8,"date":13,"utc":true},{"year":2026,"month":9,"date":22,"utc":true}]}},
 "y":{"field":"l","type":"quantitative","title":null,"scale":{"domain":[6860,135350],"nice":false,"zero":false}},"y2":{"field":"h"},
 "color":{"condition":[{"test":"time(datum.date) >= utc(2024,0,28) && time(datum.date) <= utc(2024,1,18)","value":"#00ff44"},{"test":"datum.c >= datum.o","value":"#d6d6d6"}],"value":"#666666"}}},
{"data":{"name":"w"},"mark":{"type":"bar","size":4.5},
 "encoding":{"x":{"field":"date","type":"temporal","title":null,"scale":{"type":"utc","nice":false,"domain":[{"year":2021,"month":8,"date":13,"utc":true},{"year":2026,"month":9,"date":22,"utc":true}]}},
 "y":{"field":"o","type":"quantitative","title":null,"scale":{"domain":[6860,135350],"nice":false,"zero":false}},"y2":{"field":"c"},
 "color":{"condition":[{"test":"time(datum.date) >= utc(2024,0,28) && time(datum.date) <= utc(2024,1,18)","value":"#00ff44"},{"test":"datum.c >= datum.o","value":"#d6d6d6"}],"value":"#666666"}}},
{"data":{"name":"w"},"transform":[{"fold":["ema","sma"],"as":["series","val"]}],"mark":{"type":"line","strokeWidth":2.5},
 "encoding":{"x":{"field":"date","type":"temporal","title":null,"scale":{"type":"utc","nice":false,"domain":[{"year":2021,"month":8,"date":13,"utc":true},{"year":2026,"month":9,"date":22,"utc":true}]}},
 "y":{"field":"val","type":"quantitative","title":null,"scale":{"domain":[6860,135350],"nice":false,"zero":false}},
 "color":{"field":"series","type":"nominal","scale":{"domain":["ema","sma"],"range":["#d2d2d2","#6e6e6e"]},
  "legend":{"title":null,"orient":"none","legendX":21,"legendY":8,"direction":"horizontal","padding":0,"symbolType":"stroke","symbolSize":1681,"symbolStrokeWidth":3,"labelFontSize":21,"labelColor":"#bdbdbd","columnPadding":43,"labelOffset":15,"labelExpr":"datum.label == 'ema' ? '20W EMA' : '50W SMA'"}},
 "strokeDash":{"field":"series","type":"nominal","scale":{"domain":["ema","sma"],"range":[[1,0],[10,7]]},
  "legend":{"title":null,"orient":"none","legendX":21,"legendY":8,"direction":"horizontal","padding":0,"symbolType":"stroke","symbolSize":1681,"symbolStrokeWidth":3,"labelFontSize":21,"labelColor":"#bdbdbd","columnPadding":43,"labelOffset":15,"labelExpr":"datum.label == 'ema' ? '20W EMA' : '50W SMA'"}}}},
{"data":{"name":"lv"},"transform":[{"filter":"datum.name != 'entry'"}],"mark":{"type":"rule","strokeWidth":7},
 "encoding":{"x":{"field":"start","type":"temporal","title":null,"scale":{"type":"utc","nice":false,"domain":[{"year":2021,"month":8,"date":13,"utc":true},{"year":2026,"month":9,"date":22,"utc":true}]}},"x2":{"field":"end"},
 "y":{"field":"price","type":"quantitative","title":null,"scale":{"domain":[6860,135350],"nice":false,"zero":false}},
 "color":{"condition":{"test":"datum.name == 'high'","value":"#00ff44"},"value":"#ff1a4a"}}},
{"data":{"name":"ev"},"mark":{"type":"rule","color":"#00ff44","strokeWidth":4},
 "encoding":{"x":{"field":"start","type":"temporal","title":null,"scale":{"type":"utc","nice":false,"domain":[{"year":2021,"month":8,"date":13,"utc":true},{"year":2026,"month":9,"date":22,"utc":true}]}}}},
{"data":{"name":"ev"},"mark":{"type":"rule","color":"#00e03c","strokeWidth":2.5},
 "encoding":{"x":{"field":"end","type":"temporal","title":null,"scale":{"type":"utc","nice":false,"domain":[{"year":2021,"month":8,"date":13,"utc":true},{"year":2026,"month":9,"date":22,"utc":true}]}}}},
{"data":{"name":"mk"},"transform":[{"filter":"datum.kind == 'entry'"}],"mark":{"type":"point","shape":"circle","filled":false,"stroke":"#00ff44","strokeWidth":3.5,"size":150,"opacity":1},
 "encoding":{"x":{"field":"date","type":"temporal","title":null,"scale":{"type":"utc","nice":false,"domain":[{"year":2021,"month":8,"date":13,"utc":true},{"year":2026,"month":9,"date":22,"utc":true}]}},
 "y":{"field":"price","type":"quantitative","title":null,"scale":{"domain":[6860,135350],"nice":false,"zero":false}}}},
{"data":{"name":"mk"},"transform":[{"filter":"datum.kind == 'exit'"}],"mark":{"type":"point","shape":"M-1,-1L1,1M-1,1L1,-1","filled":false,"stroke":"#cfcfcf","strokeWidth":3,"size":300,"opacity":1},
 "encoding":{"x":{"field":"date","type":"temporal","title":null,"scale":{"type":"utc","nice":false,"domain":[{"year":2021,"month":8,"date":13,"utc":true},{"year":2026,"month":9,"date":22,"utc":true}]}},
 "y":{"field":"price","type":"quantitative","title":null,"scale":{"domain":[6860,135350],"nice":false,"zero":false}}}},
{"data":{"name":"mk"},"transform":[{"filter":"datum.kind == 'exit'"}],"mark":{"type":"text","align":"left","baseline":"alphabetic","dx":18,"dy":-20,"fontSize":18,"color":"#1fe04a"},
 "encoding":{"x":{"field":"date","type":"temporal","title":null,"scale":{"type":"utc","nice":false,"domain":[{"year":2021,"month":8,"date":13,"utc":true},{"year":2026,"month":9,"date":22,"utc":true}]}},
 "y":{"field":"price","type":"quantitative","title":null,"scale":{"domain":[6860,135350],"nice":false,"zero":false}},"text":{"field":"note"}}},
{"data":{"name":"mk"},"transform":[{"filter":"datum.kind == 'exit'"}],"mark":{"type":"text","align":"left","baseline":"alphabetic","dx":53,"dy":-20,"fontSize":18,"color":"#8a8a8a"},
 "encoding":{"x":{"field":"date","type":"temporal","title":null,"scale":{"type":"utc","nice":false,"domain":[{"year":2021,"month":8,"date":13,"utc":true},{"year":2026,"month":9,"date":22,"utc":true}]}},
 "y":{"field":"price","type":"quantitative","title":null,"scale":{"domain":[6860,135350],"nice":false,"zero":false}},"text":{"field":"outcome"}}},
{"data":{"name":"lv"},"mark":{"type":"text","align":"left","baseline":"middle","dx":36,"fontSize":20},
 "encoding":{"x":{"field":"end","type":"temporal","title":null,"scale":{"type":"utc","nice":false,"domain":[{"year":2021,"month":8,"date":13,"utc":true},{"year":2026,"month":9,"date":22,"utc":true}]}},
 "y":{"field":"price","type":"quantitative","title":null,"scale":{"domain":[6860,135350],"nice":false,"zero":false}},"text":{"field":"label"},
 "color":{"condition":[{"test":"datum.name == 'high'","value":"#00ff44"},{"test":"datum.name == 'low'","value":"#ff2050"}],"value":"#dddddd"}}}
]
},
{
"width":1829,"height":248,
"layer":[
{"data":{"name":"ev"},"mark":{"type":"rect","color":"#003a12"},
 "encoding":{"x":{"field":"start","type":"temporal","title":null,"scale":{"type":"utc","nice":false,"domain":[{"year":2021,"month":8,"date":13,"utc":true},{"year":2026,"month":9,"date":22,"utc":true}]},
 "axis":{"labels":false,"grid":true,"tickOpacity":{"condition":{"test":"utcmonth(datum.value) % 6 == 0 && utcdate(datum.value) == 1","value":1},"value":0},
 "values":[{"year":2021,"month":8,"date":16,"utc":true},{"year":2021,"month":10,"date":1,"utc":true},{"year":2021,"month":11,"date":16,"utc":true},{"year":2022,"month":1,"date":1,"utc":true},{"year":2022,"month":2,"date":15,"utc":true},{"year":2022,"month":4,"date":1,"utc":true},{"year":2022,"month":5,"date":16,"utc":true},{"year":2022,"month":7,"date":1,"utc":true},{"year":2022,"month":8,"date":16,"utc":true},{"year":2022,"month":10,"date":1,"utc":true},{"year":2022,"month":11,"date":16,"utc":true},{"year":2023,"month":1,"date":1,"utc":true},{"year":2023,"month":2,"date":15,"utc":true},{"year":2023,"month":4,"date":1,"utc":true},{"year":2023,"month":5,"date":16,"utc":true},{"year":2023,"month":7,"date":1,"utc":true},{"year":2023,"month":8,"date":16,"utc":true},{"year":2023,"month":10,"date":1,"utc":true},{"year":2023,"month":11,"date":16,"utc":true},{"year":2024,"month":1,"date":1,"utc":true},{"year":2024,"month":2,"date":15,"utc":true},{"year":2024,"month":4,"date":1,"utc":true},{"year":2024,"month":5,"date":16,"utc":true},{"year":2024,"month":7,"date":1,"utc":true},{"year":2024,"month":8,"date":16,"utc":true},{"year":2024,"month":10,"date":1,"utc":true},{"year":2024,"month":11,"date":16,"utc":true},{"year":2025,"month":1,"date":1,"utc":true},{"year":2025,"month":2,"date":15,"utc":true},{"year":2025,"month":4,"date":1,"utc":true},{"year":2025,"month":5,"date":16,"utc":true},{"year":2025,"month":7,"date":1,"utc":true},{"year":2025,"month":8,"date":16,"utc":true},{"year":2025,"month":10,"date":1,"utc":true},{"year":2025,"month":11,"date":16,"utc":true},{"year":2026,"month":1,"date":1,"utc":true},{"year":2026,"month":2,"date":15,"utc":true},{"year":2026,"month":4,"date":1,"utc":true},{"year":2026,"month":5,"date":16,"utc":true},{"year":2026,"month":7,"date":1,"utc":true},{"year":2026,"month":8,"date":16,"utc":true}]}},
 "x2":{"field":"end"}}},
{"data":{"name":"w"},"mark":{"type":"bar","size":4.5},
 "encoding":{"x":{"field":"date","type":"temporal","title":null,"scale":{"type":"utc","nice":false,"domain":[{"year":2021,"month":8,"date":13,"utc":true},{"year":2026,"month":9,"date":22,"utc":true}]}},
 "y":{"field":"hist","type":"quantitative","title":"MACD","scale":{"domain":[-10800,11340],"nice":false,"zero":false},
 "axis":{"grid":true,"values":[-10000,-8750,-7500,-6250,-5000,-3750,-2500,-1250,0,1250,2500,3750,5000,6250,7500,8750,10000,11250],"labelExpr":"datum.value % 5000 != 0 ? '' : datum.value == 0 ? '0.00' : (datum.value < 0 ? '-' : '') + format(abs(datum.value), ',')","tickOpacity":{"condition":{"test":"datum.value % 5000 == 0","value":1},"value":0}}},
 "y2":{"datum":0},
 "color":{"condition":{"test":"datum.hist >= 0","value":"#858585"},"value":"#555555"}}},
{"data":{"name":"w"},"transform":[{"fold":["macd","sig"],"as":["series","val"]}],"mark":{"type":"line","strokeWidth":2.5},
 "encoding":{"x":{"field":"date","type":"temporal","title":null,"scale":{"type":"utc","nice":false,"domain":[{"year":2021,"month":8,"date":13,"utc":true},{"year":2026,"month":9,"date":22,"utc":true}]}},
 "y":{"field":"val","type":"quantitative","title":"MACD","scale":{"domain":[-10800,11340],"nice":false,"zero":false}},
 "color":{"field":"series","type":"nominal","scale":{"domain":["macd","sig"],"range":["#e8e8e8","#7a7a7a"]},
  "legend":{"title":null,"orient":"none","legendX":16,"legendY":3,"direction":"horizontal","padding":0,"symbolType":"stroke","symbolSize":1681,"symbolStrokeWidth":2.5,"labelFontSize":18,"labelColor":"#bdbdbd","columnPadding":38,"labelOffset":13,"labelExpr":"datum.label == 'macd' ? 'MACD' : 'signal'"}}}},
{"data":{"name":"ev"},"mark":{"type":"rule","color":"#00ff44","strokeWidth":4},
 "encoding":{"x":{"field":"start","type":"temporal","title":null,"scale":{"type":"utc","nice":false,"domain":[{"year":2021,"month":8,"date":13,"utc":true},{"year":2026,"month":9,"date":22,"utc":true}]}}}},
{"data":{"name":"ev"},"mark":{"type":"rule","color":"#00e03c","strokeWidth":2.5},
 "encoding":{"x":{"field":"end","type":"temporal","title":null,"scale":{"type":"utc","nice":false,"domain":[{"year":2021,"month":8,"date":13,"utc":true},{"year":2026,"month":9,"date":22,"utc":true}]}}}}
]
},
{
"width":1829,"height":183,
"layer":[
{"data":{"name":"ev"},"mark":{"type":"rect","color":"#003a12"},
 "encoding":{"x":{"field":"start","type":"temporal","title":null,"scale":{"type":"utc","nice":false,"domain":[{"year":2021,"month":8,"date":13,"utc":true},{"year":2026,"month":9,"date":22,"utc":true}]},
 "axis":{"grid":true,"labelPadding":9,"labelExpr":"utcmonth(datum.value) % 6 == 0 && utcdate(datum.value) == 1 ? utcFormat(datum.value, '%b %Y') : ''","tickOpacity":{"condition":{"test":"utcmonth(datum.value) % 6 == 0 && utcdate(datum.value) == 1","value":1},"value":0},
 "values":[{"year":2021,"month":8,"date":16,"utc":true},{"year":2021,"month":10,"date":1,"utc":true},{"year":2021,"month":11,"date":16,"utc":true},{"year":2022,"month":1,"date":1,"utc":true},{"year":2022,"month":2,"date":15,"utc":true},{"year":2022,"month":4,"date":1,"utc":true},{"year":2022,"month":5,"date":16,"utc":true},{"year":2022,"month":7,"date":1,"utc":true},{"year":2022,"month":8,"date":16,"utc":true},{"year":2022,"month":10,"date":1,"utc":true},{"year":2022,"month":11,"date":16,"utc":true},{"year":2023,"month":1,"date":1,"utc":true},{"year":2023,"month":2,"date":15,"utc":true},{"year":2023,"month":4,"date":1,"utc":true},{"year":2023,"month":5,"date":16,"utc":true},{"year":2023,"month":7,"date":1,"utc":true},{"year":2023,"month":8,"date":16,"utc":true},{"year":2023,"month":10,"date":1,"utc":true},{"year":2023,"month":11,"date":16,"utc":true},{"year":2024,"month":1,"date":1,"utc":true},{"year":2024,"month":2,"date":15,"utc":true},{"year":2024,"month":4,"date":1,"utc":true},{"year":2024,"month":5,"date":16,"utc":true},{"year":2024,"month":7,"date":1,"utc":true},{"year":2024,"month":8,"date":16,"utc":true},{"year":2024,"month":10,"date":1,"utc":true},{"year":2024,"month":11,"date":16,"utc":true},{"year":2025,"month":1,"date":1,"utc":true},{"year":2025,"month":2,"date":15,"utc":true},{"year":2025,"month":4,"date":1,"utc":true},{"year":2025,"month":5,"date":16,"utc":true},{"year":2025,"month":7,"date":1,"utc":true},{"year":2025,"month":8,"date":16,"utc":true},{"year":2025,"month":10,"date":1,"utc":true},{"year":2025,"month":11,"date":16,"utc":true},{"year":2026,"month":1,"date":1,"utc":true},{"year":2026,"month":2,"date":15,"utc":true},{"year":2026,"month":4,"date":1,"utc":true},{"year":2026,"month":5,"date":16,"utc":true},{"year":2026,"month":7,"date":1,"utc":true},{"year":2026,"month":8,"date":16,"utc":true}]}},
 "x2":{"field":"end"}}},
{"data":{"name":"w"},"mark":{"type":"bar","size":4.5},
 "encoding":{"x":{"field":"date","type":"temporal","title":null,"scale":{"type":"utc","nice":false,"domain":[{"year":2021,"month":8,"date":13,"utc":true},{"year":2026,"month":9,"date":22,"utc":true}]}},
 "y":{"field":"v","type":"quantitative","title":"vol","scale":{"domain":[0,680000],"nice":false,"zero":false},
 "axis":{"grid":true,"values":[0,50000,100000,150000,200000,250000,300000,350000,400000,450000,500000,550000,600000,650000],"labelExpr":"datum.value == 0 ? '0' : datum.value % 200000 == 0 ? datum.value + 'M' : ''","tickOpacity":{"condition":{"test":"datum.value % 200000 == 0","value":1},"value":0}}},
 "y2":{"datum":0},
 "color":{"condition":{"test":"datum.c >= datum.o","value":"#8e8e8e"},"value":"#5c5c5c"}}},
{"data":{"name":"w"},"mark":{"type":"line","strokeWidth":2,"color":"#d0d0d0"},
 "encoding":{"x":{"field":"date","type":"temporal","title":null,"scale":{"type":"utc","nice":false,"domain":[{"year":2021,"month":8,"date":13,"utc":true},{"year":2026,"month":9,"date":22,"utc":true}]}},
 "y":{"field":"vma","type":"quantitative","title":"vol","scale":{"domain":[0,680000],"nice":false,"zero":false}}}},
{"data":{"name":"ev"},"mark":{"type":"rule","color":"#00ff44","strokeWidth":4},
 "encoding":{"x":{"field":"start","type":"temporal","title":null,"scale":{"type":"utc","nice":false,"domain":[{"year":2021,"month":8,"date":13,"utc":true},{"year":2026,"month":9,"date":22,"utc":true}]}}}},
{"data":{"name":"ev"},"mark":{"type":"rule","color":"#00e03c","strokeWidth":2.5},
 "encoding":{"x":{"field":"end","type":"temporal","title":null,"scale":{"type":"utc","nice":false,"domain":[{"year":2021,"month":8,"date":13,"utc":true},{"year":2026,"month":9,"date":22,"utc":true}]}}}}
]
}
]
}
